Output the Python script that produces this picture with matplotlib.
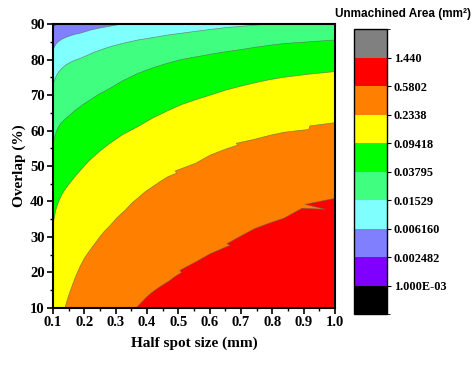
import matplotlib
matplotlib.use("Agg")
import matplotlib.pyplot as plt
from matplotlib.colors import ListedColormap, BoundaryNorm
from matplotlib.cm import ScalarMappable
from matplotlib.ticker import MultipleLocator

# livelli e colori della legenda (dal basso verso l'alto)
level_labels = ["1.000E-03", "0.002482", "0.006160", "0.01529", "0.03795",
                "0.09418", "0.2338", "0.5802", "1.440"]
band_colors = ["#000000", "#8000ff", "#8080ff", "#80ffff", "#40ff80",
               "#00ff00", "#ffff00", "#ff8000", "#ff0000", "#808080"]

# confini fra le bande (x = half spot size, y = overlap %)
b1_x = [0.1, 0.108, 0.116]
b1_y = [89.2, 89.7, 90.0]

b2_x = [0.1, 0.104, 0.11, 0.118, 0.128, 0.14, 0.155, 0.17, 0.186, 0.205, 0.22, 0.25, 0.282, 0.32]
b2_y = [82.5, 83.5, 84.4, 85.1, 85.7, 86.2, 86.7, 87.1, 87.4, 87.9, 88.3, 88.9, 89.4, 90.0]

b3_x = [0.1, 0.104, 0.11, 0.118, 0.128, 0.14, 0.155, 0.17, 0.186, 0.21, 0.23, 0.255, 0.282, 0.32, 0.371, 0.42, 0.467, 0.56, 0.652, 0.72, 0.79]
b3_y = [72.8, 74.0, 75.3, 76.5, 77.5, 78.4, 79.2, 79.8, 80.3, 81.2, 82.0, 82.8, 83.6, 84.5, 85.5, 86.2, 86.9, 88.0, 89.0, 89.5, 90.0]

b4_x = [0.1, 0.103, 0.107, 0.112, 0.118, 0.125, 0.135, 0.145, 0.154, 0.17, 0.186, 0.2, 0.218, 0.25, 0.282, 0.32, 0.371, 0.42, 0.467, 0.51, 0.56, 0.61, 0.652, 0.7, 0.742, 0.79, 0.837, 0.92, 1.0]
b4_y = [55.9, 57.3, 58.7, 60.0, 61.1, 62.0, 62.9, 63.7, 64.4, 65.6, 66.7, 67.6, 68.6, 70.4, 71.9, 73.9, 76.1, 77.7, 79.0, 80.0, 80.8, 81.6, 82.2, 82.8, 83.4, 84.0, 84.5, 85.0, 85.5]

b5_x = [0.1, 0.102, 0.105, 0.109, 0.114, 0.12, 0.128, 0.137, 0.146, 0.154, 0.17, 0.186, 0.2, 0.218, 0.25, 0.282, 0.32, 0.371, 0.42, 0.467, 0.51, 0.56, 0.61, 0.652, 0.7, 0.742, 0.79, 0.837, 0.92, 1.0]
b5_y = [32.9, 34.3, 35.9, 37.6, 39.0, 40.4, 41.9, 43.2, 44.3, 45.2, 47.0, 48.6, 50.0, 51.7, 54.2, 56.4, 58.7, 61.1, 63.6, 65.6, 67.3, 68.8, 70.2, 71.4, 72.5, 73.4, 74.3, 75.0, 75.9, 76.6]

b6_x = [0.138, 0.148, 0.16, 0.172, 0.186, 0.2, 0.218, 0.235, 0.25, 0.265, 0.282, 0.305, 0.33, 0.35, 0.371, 0.395, 0.42, 0.445, 0.467, 0.495, 0.49, 0.52, 0.556, 0.6, 0.652, 0.69, 0.685, 0.742, 0.79, 0.837, 0.916, 0.92, 1.0]
b6_y = [10.0, 13.0, 16.0, 18.8, 21.6, 24.0, 26.3, 28.3, 30.1, 31.7, 33.2, 35.5, 37.5, 39.4, 41.0, 42.8, 44.3, 45.8, 47.0, 48.0, 48.6, 49.6, 50.8, 53.0, 54.8, 55.9, 56.4, 57.5, 58.6, 59.5, 60.3, 61.3, 62.2]

b7_x = [0.365, 0.378, 0.39, 0.40, 0.413, 0.43, 0.445, 0.467, 0.49, 0.51, 0.505, 0.53, 0.556, 0.6, 0.652, 0.665, 0.655, 0.70, 0.742, 0.79, 0.837, 0.895, 0.969, 0.905, 0.95, 1.0]
b7_y = [10.0, 11.2, 12.3, 13.2, 14.2, 15.3, 16.2, 17.4, 18.9, 20.0, 20.6, 21.8, 23.0, 25.2, 27.2, 27.6, 28.1, 30.3, 32.3, 33.9, 35.3, 38.1, 37.8, 39.2, 40.0, 40.9]

boundaries = [(b1_x, b1_y), (b2_x, b2_y), (b3_x, b3_y), (b4_x, b4_y),
              (b5_x, b5_y), (b6_x, b6_y), (b7_x, b7_y)]

serif = "Liberation Serif"
fig = plt.figure(figsize=(4.72, 3.65), dpi=100)
ax = fig.add_axes([0.1123, 0.1562, 0.5975, 0.778])
xmin, xmax, ymin, ymax = 0.1, 1.0, 10, 90

# regione piu' alta (valori piu' piccoli visibili)
ax.set_facecolor(band_colors[1])
for k, (bx, by) in enumerate(boundaries):
    col = band_colors[k + 2]
    px = list(bx)
    py = list(by)
    if px[-1] < xmax:           # il confine esce dal lato superiore
        px.append(xmax)
        py.append(ymax)
    poly_x = px + [xmax, px[0]]
    poly_y = py + [ymin, ymin]
    ax.fill(poly_x, poly_y, color=col, lw=0, zorder=1 + k)
    ax.plot(bx, by, color="#606060", lw=0.5, alpha=0.7, zorder=1 + k)

ax.set_xlim(xmin, xmax)
ax.set_ylim(ymin, ymax)
ax.xaxis.set_major_locator(MultipleLocator(0.1))
ax.xaxis.set_minor_locator(MultipleLocator(0.05))
ax.yaxis.set_major_locator(MultipleLocator(10))
ax.yaxis.set_minor_locator(MultipleLocator(5))
ax.tick_params(which="major", direction="out", length=4, width=1.2, labelsize=10.5, pad=2)
ax.tick_params(which="minor", direction="out", length=2.5, width=1.0)
for lab in ax.get_xticklabels() + ax.get_yticklabels():
    lab.set_family(serif)
    lab.set_fontweight("bold")
for s in ax.spines.values():
    s.set_linewidth(1.5)
    s.set_zorder(20)

ax.set_xlabel("Half spot size (mm)", family=serif, fontweight="bold", fontsize=11, labelpad=5)
ax.set_ylabel("Overlap (%)", family=serif, fontweight="bold", fontsize=11, labelpad=3)

# barra dei colori
cax = fig.add_axes([0.75, 0.1397, 0.0699, 0.7808])
cmap = ListedColormap(band_colors)
norm = BoundaryNorm(list(range(len(band_colors) + 1)), cmap.N)
cb = fig.colorbar(ScalarMappable(norm=norm, cmap=cmap), cax=cax,
                  ticks=list(range(1, len(level_labels) + 1)))
cb.ax.set_yticklabels(level_labels)
cb.outline.set_linewidth(1.0)
cb.ax.tick_params(direction="out", length=3, width=0.8, labelsize=8.8, pad=2)
for lab in cb.ax.get_yticklabels():
    lab.set_family(serif)
    lab.set_fontweight("bold")

fig.text(0.853, 0.962, "Unmachined Area (mm\u00b2)", family="Liberation Sans",
         fontweight="bold", fontsize=8.5, ha="center", va="center")

fig.savefig("out.png", dpi=100)
